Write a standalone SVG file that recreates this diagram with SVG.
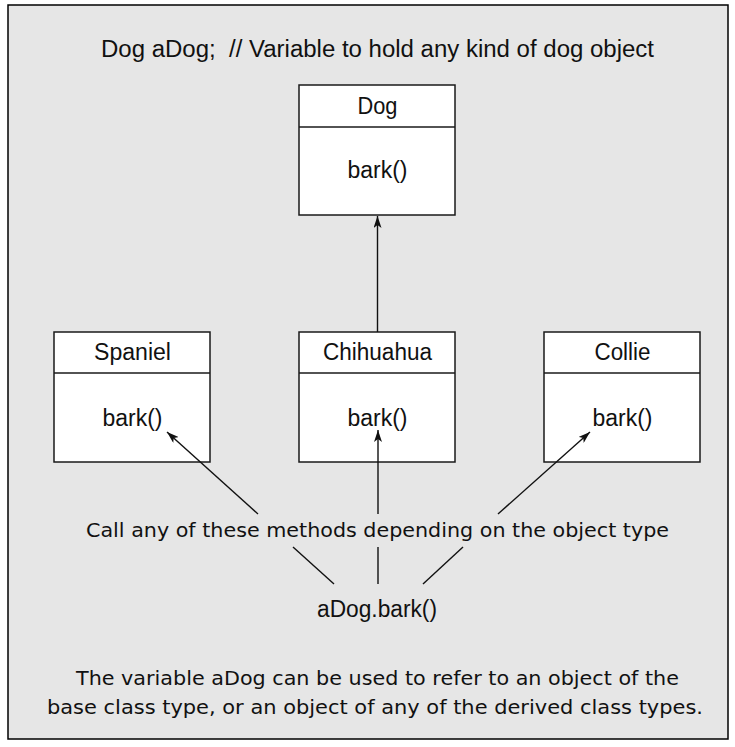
<svg xmlns="http://www.w3.org/2000/svg" width="735" height="747" viewBox="0 0 735 747">
<style>
.bg{fill:#e6e6e6;stroke:#000;stroke-width:1.5}
.box{fill:#fff;stroke:#1a1a1a;stroke-width:1.5}
.sep{stroke:#1a1a1a;stroke-width:1.5}
.cond{font-family:"Liberation Sans Narrow","Liberation Sans",Arial,sans-serif;font-size:23px;fill:#111;text-anchor:middle}
.wide{font-family:"DejaVu Sans","Verdana",sans-serif;font-size:20px;fill:#111;text-anchor:middle}
.ln{stroke:#111;stroke-width:1.4;fill:none}
</style>
<defs>
<marker id="ah" viewBox="0 0 12 8" refX="12" refY="4" markerWidth="12" markerHeight="8" markerUnits="userSpaceOnUse" orient="auto">
<path d="M0,0 L12,4 L0,8 L3,4 Z" fill="#111"/>
</marker>
</defs>
<rect class="bg" x="8" y="5" width="720" height="734"/>
<text class="cond" x="377.5" y="57" textLength="553" lengthAdjust="spacingAndGlyphs" xml:space="preserve">Dog aDog;  // Variable to hold any kind of dog object</text>

<g id="dog">
<rect class="box" x="299" y="85" width="156" height="130"/>
<line class="sep" x1="299" y1="127" x2="455" y2="127"/>
<text class="cond" x="377.5" y="114" textLength="40" lengthAdjust="spacingAndGlyphs">Dog</text>
<text class="cond" x="377.5" y="178" textLength="60" lengthAdjust="spacingAndGlyphs">bark()</text>
</g>
<g id="spaniel">
<rect class="box" x="54" y="332" width="156" height="130"/>
<line class="sep" x1="54" y1="373" x2="210" y2="373"/>
<text class="cond" x="132.5" y="360" textLength="77" lengthAdjust="spacingAndGlyphs">Spaniel</text>
<text class="cond" x="132.5" y="426" textLength="60" lengthAdjust="spacingAndGlyphs">bark()</text>
</g>
<g id="chihuahua">
<rect class="box" x="299" y="332" width="156" height="130"/>
<line class="sep" x1="299" y1="373" x2="455" y2="373"/>
<text class="cond" x="377.5" y="360" textLength="109" lengthAdjust="spacingAndGlyphs">Chihuahua</text>
<text class="cond" x="377.5" y="426" textLength="60" lengthAdjust="spacingAndGlyphs">bark()</text>
</g>
<g id="collie">
<rect class="box" x="544" y="332" width="156" height="130"/>
<line class="sep" x1="544" y1="373" x2="700" y2="373"/>
<text class="cond" x="622.5" y="360" textLength="56" lengthAdjust="spacingAndGlyphs">Collie</text>
<text class="cond" x="622.5" y="426" textLength="60" lengthAdjust="spacingAndGlyphs">bark()</text>
</g>

<g id="connectors">
<line class="ln" x1="377.5" y1="332" x2="377.5" y2="216" marker-end="url(#ah)"/>
<line class="ln" x1="258" y1="514" x2="167" y2="432" marker-end="url(#ah)"/>
<line class="ln" x1="378" y1="514" x2="378" y2="430" marker-end="url(#ah)"/>
<line class="ln" x1="498" y1="514" x2="590" y2="432" marker-end="url(#ah)"/>
<line class="ln" x1="293" y1="547" x2="334" y2="584"/>
<line class="ln" x1="378" y1="547" x2="378" y2="584"/>
<line class="ln" x1="463" y1="547" x2="423" y2="584"/>
</g>

<text class="wide" x="377.5" y="537" textLength="583" lengthAdjust="spacingAndGlyphs">Call any of these methods depending on the object type</text>
<text class="cond" x="377" y="617" font-size="21" textLength="120" lengthAdjust="spacingAndGlyphs">aDog.bark()</text>
<text class="wide" x="377.5" y="685" textLength="603" lengthAdjust="spacingAndGlyphs">The variable aDog can be used to refer to an object of the</text>
<text class="wide" x="375" y="714" textLength="656" lengthAdjust="spacingAndGlyphs">base class type, or an object of any of the derived class types.</text>
</svg>
